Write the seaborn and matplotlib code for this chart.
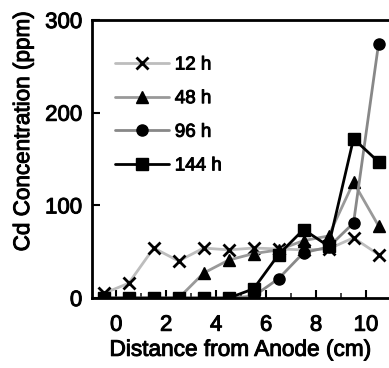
import numpy as np
import pandas as pd
import seaborn as sns
import matplotlib.pyplot as plt
import matplotlib.patheffects as pe
from matplotlib.ticker import MultipleLocator

distance = [-0.5, 0.5, 1.5, 2.5, 3.5, 4.5, 5.5, 6.5, 7.5, 8.5, 9.5, 10.5]
cd_12h = [5, 16, 54, 40, 54, 52, 54, 53, 52, 53, 65, 47]
cd_48h = [0, 0, 0, 0, 27, 41, 48, 52, 62, 67, 125, 78]
cd_96h = [0, 0, 0, 0, 0, 0, 2, 21, 49, 55, 81, 274]
cd_144h = [0, 0, 0, 0, 0, 0, 10, 47, 74, 56, 172, 147]

series = {'12 h': cd_12h, '48 h': cd_48h, '96 h': cd_96h, '144 h': cd_144h}
line_colors = {'12 h': '#bdbdbd', '48 h': '#999999', '96 h': '#888888', '144 h': '#000000'}
markers = {'12 h': 'x', '48 h': '^', '96 h': 'o', '144 h': 's'}

rows = []
for name, vals in series.items():
    for d, v in zip(distance, vals):
        rows.append({'Distance': d, 'Cd': v, 'Time': name})
df = pd.DataFrame(rows)

sns.set_style('ticks')
plt.rcParams['font.family'] = ['Liberation Sans', 'DejaVu Sans']
plt.rcParams['text.color'] = 'k'
plt.rcParams['axes.labelcolor'] = 'k'

fig = plt.figure(figsize=(3.89, 3.68), dpi=100)
ax = fig.add_axes([0.2365, 0.19, 0.7635, 0.7555])

for name in series:
    sub = df[df['Time'] == name]
    sns.lineplot(data=sub, x='Distance', y='Cd', ax=ax, color=line_colors[name],
                 marker=markers[name], markersize=8,
                 markerfacecolor='k', markeredgecolor='k',
                 markeredgewidth=2 if name == '12 h' else 1,
                 linewidth=2, label=name)

ax.set_xlim(-0.97, 10.92)
ax.set_ylim(0, 300)
ax.xaxis.set_major_locator(MultipleLocator(2))
ax.xaxis.set_minor_locator(MultipleLocator(1))
ax.set_yticks([0, 100, 200, 300])
ax.tick_params(axis='both', which='major', direction='in', length=6, width=1.5,
               labelsize=16, colors='k')
ax.tick_params(axis='x', which='major', pad=12)
ax.tick_params(axis='y', which='major', pad=7)
ax.tick_params(axis='x', which='minor', direction='in', length=3.5, width=1.2)
for side in ['left', 'bottom', 'top']:
    ax.spines[side].set_linewidth(2)
    ax.spines[side].set_color('k')
ax.spines['right'].set_visible(False)

ax.set_xlabel('Distance from Anode (cm)', fontsize=16.3, labelpad=1.5)
ax.set_ylabel('Cd Concentration (ppm)', fontsize=16.2)
ax.yaxis.set_label_coords(-0.195, 0.60)

leg = ax.legend(loc='upper left', bbox_to_anchor=(0.02, 0.93), frameon=False,
                fontsize=13.5, handlelength=2.9, labelspacing=0.88, handletextpad=0.3)

# heavier text like the original
thick = [pe.withStroke(linewidth=0.7, foreground='k')]
texts = ax.get_xticklabels() + ax.get_yticklabels() + leg.get_texts()
texts += [ax.xaxis.label, ax.yaxis.label]
for t in texts:
    t.set_path_effects(thick)

fig.savefig('out.png', dpi=100)
